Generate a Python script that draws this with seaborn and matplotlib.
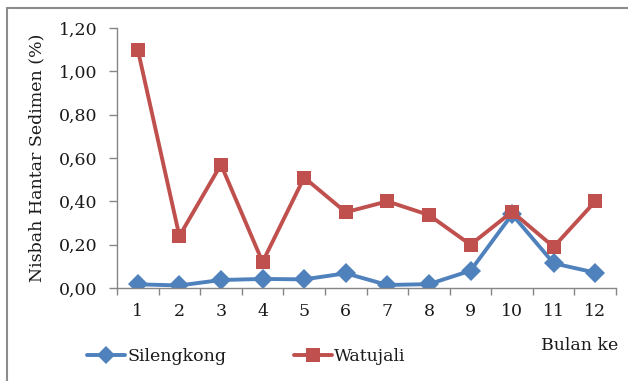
import matplotlib
matplotlib.use("Agg")
import matplotlib.pyplot as plt
from matplotlib.lines import Line2D
import seaborn as sns
import pandas as pd

months = [1, 2, 3, 4, 5, 6, 7, 8, 9, 10, 11, 12]
silengkong = [0.017, 0.012, 0.037, 0.042, 0.040, 0.068, 0.014, 0.018, 0.080, 0.340, 0.114, 0.071]
watujali = [1.10, 0.24, 0.57, 0.12, 0.51, 0.35, 0.40, 0.337, 0.20, 0.352, 0.19, 0.40]
y_ticks = [0.0, 0.2, 0.4, 0.6, 0.8, 1.0, 1.2]
y_tick_labels = ["0,00", "0,20", "0,40", "0,60", "0,80", "1,00", "1,20"]
series_names = ["Silengkong", "Watujali"]

sns.set_style("white")
plt.rcParams["font.family"] = ["DejaVu Serif"]
plt.rcParams["text.color"] = "#1a1a1a"
plt.rcParams["xtick.labelcolor"] = "#1a1a1a"
plt.rcParams["ytick.labelcolor"] = "#1a1a1a"
plt.rcParams["axes.labelcolor"] = "#1a1a1a"

df = pd.DataFrame({
    "Bulan": months * 2,
    "Nisbah": silengkong + watujali,
    "Lokasi": [series_names[0]] * len(months) + [series_names[1]] * len(months),
})

palette = {"Silengkong": "#4F81BD", "Watujali": "#C0504D"}
markers = {"Silengkong": "D", "Watujali": "s"}
msize = {"Silengkong": 9.5, "Watujali": 10}

fig = plt.figure(figsize=(6.28, 3.81), dpi=100)
ax = fig.add_axes([0.1863, 0.244, 0.7947, 0.6825])

sns.lineplot(data=df, x="Bulan", y="Nisbah", hue="Lokasi", style="Lokasi",
             palette=palette, markers=markers, dashes=False, linewidth=2.8,
             markersize=10, markeredgewidth=0, ax=ax, legend=False)

ax.set_xlim(0.5, 12.5)
ax.set_ylim(0, 1.2)
ax.set_yticks(y_ticks)
ax.set_yticklabels(y_tick_labels, fontsize=12.5)
ax.set_xticks([m + 0.5 for m in [0] + months])
ax.set_xticklabels([])
ax.set_xticks(months, minor=True)
ax.set_xticklabels([str(m) for m in months], minor=True, fontsize=12.5)
ax.tick_params(axis="x", which="major", bottom=True, length=5, width=1,
               color="#868686", direction="out")
ax.tick_params(axis="x", which="minor", bottom=True, length=0, pad=11)
ax.tick_params(axis="y", left=True, length=6, width=1, color="#868686",
               direction="out", pad=8)
ax.set_xlabel("")
ax.set_ylabel("Nisbah Hantar Sedimen (%)", fontsize=12.5)
ax.yaxis.set_label_coords(-0.144, 0.5)

for side in ["top", "right"]:
    ax.spines[side].set_visible(False)
for side in ["left", "bottom"]:
    ax.spines[side].set_color("#868686")
    ax.spines[side].set_linewidth(1)

fig.text(0.923, 0.094, "Bulan ke", fontsize=12.5, ha="center", va="center")

handles = [
    Line2D([], [], color=palette[n], marker=markers[n], markersize=msize[n],
           markeredgewidth=0, linewidth=2.8) for n in series_names
]
fig.legend(handles, series_names, loc="center left", bbox_to_anchor=(0.139, 0.063),
           ncol=2, frameon=False, fontsize=12.5, handlelength=2.2,
           handletextpad=0.1, columnspacing=3.9, borderpad=0, borderaxespad=0)

# outer frame: left and top edges
fig.add_artist(Line2D([0.0115, 0.0115], [0.0, 0.979], color="#8c8c8c", linewidth=1.5,
                      transform=fig.transFigure))
fig.add_artist(Line2D([0.0115, 1.0], [0.979, 0.979], color="#8c8c8c", linewidth=1.5,
                      transform=fig.transFigure))

fig.savefig("out.png", dpi=100)
